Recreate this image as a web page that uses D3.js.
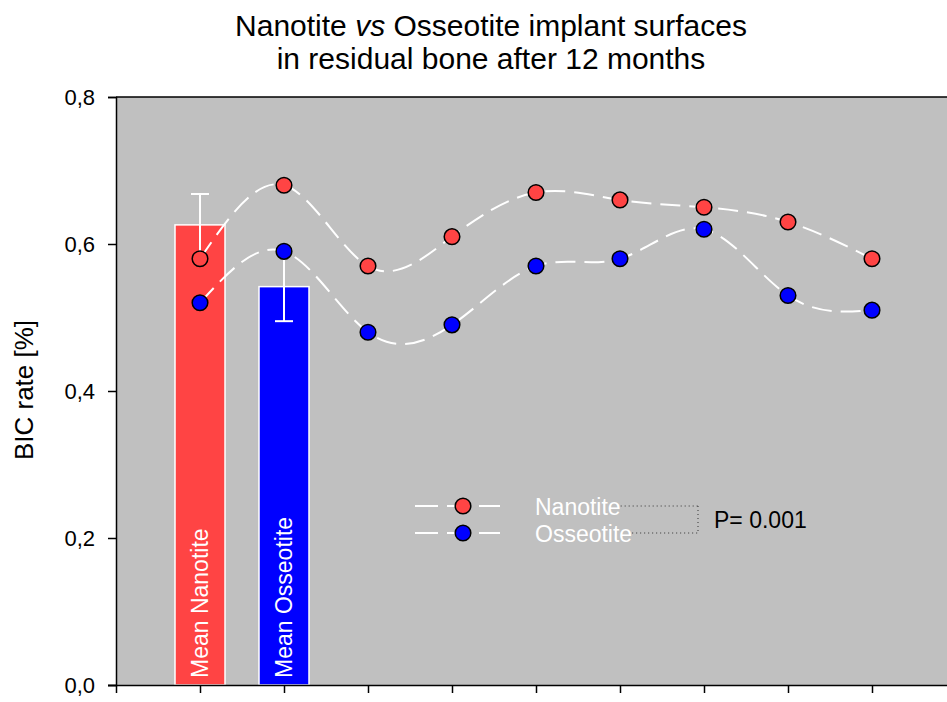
<!DOCTYPE html>
<html><head><meta charset="utf-8">
<script src="https://cdn.jsdelivr.net/npm/d3@7"></script>
<style>body{margin:0;background:#fff;} svg{display:block;font-family:"Liberation Sans",Arial,sans-serif;}</style>
</head><body><svg id="c" width="947" height="702"></svg>
<script>
const categories = [1, 2, 3, 4, 5, 6, 7, 8, 9];
const nanotite  = [0.58, 0.68, 0.57, 0.61, 0.67, 0.66, 0.65, 0.63, 0.58];
const osseotite = [0.52, 0.59, 0.48, 0.49, 0.57, 0.58, 0.62, 0.53, 0.51];
const barLabels = ["Mean Nanotite", "Mean Osseotite"];
const barPositions = [1, 2];
const barMeans = [0.626, 0.542];
const barErrors = [0.042, 0.047];
const errorCapSide = [1, -1];
const yTicks = [0, 0.2, 0.4, 0.6, 0.8];
const xTicks = [0, 1, 2, 3, 4, 5, 6, 7, 8, 9, 10];
const seriesNames = ["Nanotite", "Osseotite"];
const pText = "P= 0.001";

const RED = "#ff4444", BLUE = "#0000ff", BG = "#c0c0c0";
const svg = d3.select("#c");
const L = 116, T = 97, B = 685, R = 956;
const x = d3.scaleLinear().domain([0, 10]).range([L, R]);
const y = d3.scaleLinear().domain([0, 0.8]).range([B, T]);

svg.append("rect").attr("x", L).attr("y", T).attr("width", R - L).attr("height", B - T).attr("fill", BG);

// bars
const bw = 50;
const barColors = [RED, BLUE];
barMeans.forEach((m, i) => {
  const cx = x(barPositions[i]);
  svg.append("rect").attr("x", cx - bw / 2).attr("y", y(m)).attr("width", bw).attr("height", y(0) - y(m))
    .attr("fill", barColors[i]).attr("stroke", "#fff").attr("stroke-width", 1.5);
  svg.append("text").attr("transform", `translate(${cx + 8},${B - 7}) rotate(-90)`)
    .attr("fill", "#fff").attr("font-size", 23).text(barLabels[i]);
  const lo = m - barErrors[i], hi = m + barErrors[i];
  svg.append("line").attr("x1", cx).attr("x2", cx).attr("y1", y(lo)).attr("y2", y(hi))
    .attr("stroke", "#fff").attr("stroke-width", 2);
  const capV = errorCapSide[i] > 0 ? hi : lo;
  svg.append("line").attr("x1", cx - 9).attr("x2", cx + 9).attr("y1", y(capV)).attr("y2", y(capV))
    .attr("stroke", "#fff").attr("stroke-width", 2);
});

// curves
const line = d3.line().x((d, i) => x(categories[i])).y(d => y(d)).curve(d3.curveNatural);
[nanotite, osseotite].forEach(s => {
  svg.append("path").attr("d", line(s)).attr("fill", "none").attr("stroke", "#fff")
    .attr("stroke-width", 2).attr("stroke-dasharray", "20,9");
});
[[nanotite, RED], [osseotite, BLUE]].forEach(([s, c]) => {
  svg.selectAll(null).data(s).enter().append("circle")
    .attr("cx", (d, i) => x(categories[i])).attr("cy", d => y(d)).attr("r", 7.8)
    .attr("fill", c).attr("stroke", "#000").attr("stroke-width", 1.5);
});

// axes
const fmt = v => d3.format(".1f")(v).replace(".", ",");
const yAxis = svg.append("g").attr("transform", `translate(${L},0)`)
  .call(d3.axisLeft(y).tickValues(yTicks).tickFormat(fmt).tickSize(8).tickPadding(13));
yAxis.selectAll("text").attr("font-size", 22).attr("fill", "#000").attr("font-family", "Liberation Sans, Arial, sans-serif");
const xAxis = svg.append("g").attr("transform", `translate(0,${B})`)
  .call(d3.axisBottom(x).tickValues(xTicks).tickFormat("").tickSize(8));
[yAxis, xAxis].forEach(a => { a.selectAll("line,path").attr("stroke", "#000").attr("stroke-width", 1.5); });
xAxis.select("path").attr("d", `M${L - 8},0.5H${R}`);
svg.append("line").attr("x1", L).attr("x2", R).attr("y1", T).attr("y2", T).attr("stroke", "#000").attr("stroke-width", 1.5);

// title
const title = svg.append("text").attr("text-anchor", "middle").attr("font-size", 30).attr("fill", "#000");
const t1 = title.append("tspan").attr("x", 491).attr("y", 36);
t1.append("tspan").text("Nanotite ");
t1.append("tspan").attr("font-style", "italic").text("vs");
t1.append("tspan").text(" Osseotite implant surfaces");
title.append("tspan").attr("x", 491).attr("y", 69).text("in residual bone after 12 months");

svg.append("text").attr("transform", "translate(33,390) rotate(-90)").attr("text-anchor", "middle")
  .attr("font-size", 26).attr("fill", "#000").text("BIC rate [%]");

// legend
const legY = [506, 533];
[RED, BLUE].forEach((c, i) => {
  const ly = legY[i];
  svg.append("line").attr("x1", 415).attr("x2", 500).attr("y1", ly).attr("y2", ly)
    .attr("stroke", "#fff").attr("stroke-width", 2).attr("stroke-dasharray", "23,9");
  svg.append("circle").attr("cx", 463).attr("cy", ly).attr("r", 7.8).attr("fill", c).attr("stroke", "#000").attr("stroke-width", 1.5);
  const tx = svg.append("text").attr("x", 535).attr("y", ly + 9).attr("font-size", 23).attr("fill", "#fff").text(seriesNames[i]);
  const w = tx.node().getComputedTextLength();
  svg.append("line").attr("x1", 535 + w).attr("x2", 698).attr("y1", ly).attr("y2", ly)
    .attr("stroke", "#333").attr("stroke-width", 1).attr("stroke-dasharray", "1,3");
});
svg.append("line").attr("x1", 698).attr("x2", 698).attr("y1", legY[0]).attr("y2", legY[1])
  .attr("stroke", "#333").attr("stroke-width", 1).attr("stroke-dasharray", "1,3");
svg.append("text").attr("x", 714).attr("y", 528).attr("font-size", 23).attr("fill", "#000").text(pText);
</script></body></html>
